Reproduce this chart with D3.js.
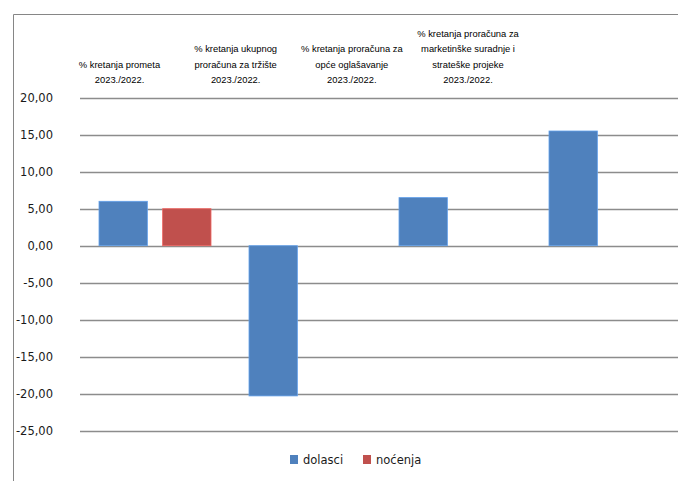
<!DOCTYPE html>
<html><head><meta charset="utf-8">
<script src="https://cdn.jsdelivr.net/npm/d3@7"></script>
<style>body{margin:0;background:#fff}svg{display:block}</style>
</head><body>
<svg id="c" width="678" height="481"></svg>
<script>
const categories = [
  ["% kretanja prometa", "2023./2022."],
  ["% kretanja ukupnog", "proračuna za tržište", "2023./2022."],
  ["% kretanja proračuna za", "opće oglašavanje", "2023./2022."],
  ["% kretanja proračuna za", "marketinške suradnje i", "strateške projeke", "2023./2022."]
];
const seriesNames = ["dolasci", "noćenja"];
const dolasci = [6.0, -20.3, 6.5, 15.5];
const nocenja = [5.0, null, null, null];
const yTicks = [20, 15, 10, 5, 0, -5, -10, -15, -20, -25];
const colors = ["#4F81BD", "#C0504D"];

const svg = d3.select("#c");
const W = 678, H = 481;
svg.append("rect").attr("width", W).attr("height", H).attr("fill", "#fff");
// outer border
svg.append("path").attr("d", `M13.5,${H} V14.5 H${W}`).attr("fill", "none").attr("stroke", "#868686").attr("stroke-width", 1);

const y = d3.scaleLinear().domain([-25, 20]).range([430.7, 97.7]);
const x0 = d3.scaleBand().domain(d3.range(categories.length)).range([80, 680]).paddingInner(0).paddingOuter(0);
const x1 = d3.scaleBand().domain(seriesNames).range([19, 131]).paddingInner(0.24);

// gridlines
svg.append("g").selectAll("line").data(yTicks).join("line")
  .attr("x1", 80).attr("x2", W)
  .attr("y1", d => Math.round(y(d)) + 0.5).attr("y2", d => Math.round(y(d)) + 0.5)
  .attr("stroke", "#8c8c8c").attr("stroke-width", 1.3);

// y labels
const fmt = d => d3.format(".2f")(d).replace(".", ",").replace("−", "-");
svg.append("g").selectAll("text").data(yTicks).join("text")
  .attr("x", 53).attr("y", d => y(d)).attr("dy", "0.35em")
  .attr("text-anchor", "end")
  .attr("font-family", "DejaVu Sans, Verdana, sans-serif").attr("font-size", 11.5)
  .attr("fill", "#1a1a1a")
  .text(fmt);

// bars
const data = [];
categories.forEach((c, i) => {
  [dolasci, nocenja].forEach((s, j) => {
    if (s[i] !== null) data.push({ i, key: seriesNames[j], v: s[i], color: colors[j] });
  });
});
svg.append("g").selectAll("rect").data(data).join("rect")
  .attr("x", d => x0(d.i) + x1(d.key))
  .attr("width", x1.bandwidth())
  .attr("y", d => y(Math.max(0, d.v)))
  .attr("height", d => Math.abs(y(d.v) - y(0)))
  .attr("fill", d => d.color)
  .attr("stroke", d => d3.color(d.color).brighter(0.6))
  .attr("stroke-width", 0.8);

// category labels at top
const xl = d3.scalePoint().domain(d3.range(categories.length)).range([119.5, 468]);
const lineH = 15.5, lastBase = 83;
const lg = svg.append("g");
categories.forEach((lines, i) => {
  const t = lg.append("text").attr("text-anchor", "middle")
    .attr("font-family", "'Liberation Sans', Arial, sans-serif").attr("font-size", 9.4)
    .attr("fill", "#000");
  lines.forEach((ln, k) => {
    t.append("tspan").attr("x", xl(i)).attr("y", lastBase - (lines.length - 1 - k) * lineH).text(ln);
  });
});

// legend
const legX = [290, 363];
const leg = svg.append("g");
seriesNames.forEach((n, j) => {
  leg.append("rect").attr("x", legX[j]).attr("y", 455).attr("width", 8).attr("height", 9).attr("fill", colors[j]);
  leg.append("text").attr("x", legX[j] + 13).attr("y", 463.5)
    .attr("font-family", "DejaVu Sans, Verdana, sans-serif").attr("font-size", 11.5)
    .attr("fill", "#1a1a1a").text(n);
});
</script>
</body></html>
